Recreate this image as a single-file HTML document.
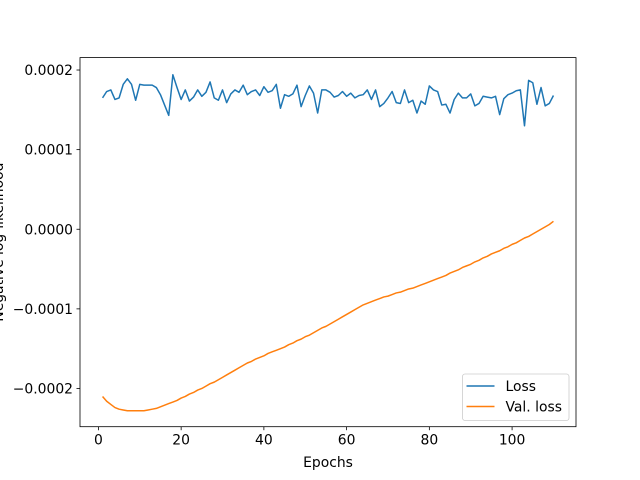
<!DOCTYPE html>
<html><head><meta charset="utf-8"><style>body{margin:0;background:#fff}svg{display:block;font-family:"DejaVu Sans","Liberation Sans",sans-serif}</style></head>
<body>
<svg id="c" width="640" height="480" viewBox="0 0 640 480">
<rect width="640" height="480" fill="#fff"/>
</svg>
<script>
const epochs = Array.from({length:110},(_, i)=>i+1);
const lossVals = [1.65,1.73,1.75,1.63,1.65,1.82,1.89,1.82,1.62,1.82,
1.81,1.81,1.81,1.78,1.69,1.56,1.43,1.94,1.78,1.63,
1.75,1.61,1.66,1.75,1.67,1.72,1.85,1.65,1.62,1.75,
1.59,1.70,1.75,1.72,1.81,1.69,1.73,1.75,1.68,1.79,
1.72,1.74,1.82,1.52,1.69,1.67,1.70,1.81,1.54,1.68,
1.80,1.71,1.46,1.75,1.75,1.72,1.66,1.68,1.73,1.67,
1.71,1.65,1.68,1.69,1.75,1.63,1.75,1.54,1.58,1.65,
1.73,1.59,1.58,1.75,1.59,1.62,1.46,1.61,1.57,1.80,
1.75,1.73,1.56,1.57,1.46,1.63,1.71,1.65,1.65,1.70,
1.55,1.58,1.67,1.66,1.65,1.67,1.44,1.64,1.69,1.71,
1.74,1.75,1.30,1.87,1.84,1.57,1.78,1.55,1.58,1.68];
const valLossVals = [-2.10,-2.16,-2.20,-2.24,-2.26,-2.27,-2.28,-2.28,-2.28,-2.28,
-2.28,-2.27,-2.26,-2.25,-2.23,-2.21,-2.19,-2.17,-2.15,-2.12,
-2.10,-2.07,-2.05,-2.02,-2.00,-1.97,-1.94,-1.92,-1.89,-1.86,
-1.83,-1.80,-1.77,-1.74,-1.71,-1.68,-1.66,-1.63,-1.61,-1.59,
-1.56,-1.54,-1.52,-1.50,-1.48,-1.45,-1.43,-1.40,-1.38,-1.35,
-1.33,-1.30,-1.27,-1.24,-1.22,-1.19,-1.16,-1.13,-1.10,-1.07,
-1.04,-1.01,-0.98,-0.95,-0.93,-0.91,-0.89,-0.87,-0.85,-0.84,
-0.82,-0.80,-0.79,-0.77,-0.75,-0.74,-0.72,-0.70,-0.68,-0.66,
-0.64,-0.62,-0.60,-0.58,-0.55,-0.53,-0.51,-0.48,-0.46,-0.44,
-0.41,-0.39,-0.36,-0.34,-0.31,-0.29,-0.27,-0.24,-0.22,-0.19,
-0.17,-0.14,-0.11,-0.09,-0.06,-0.03,0.00,0.03,0.06,0.10];
const xTicks = [0,20,40,60,80,100];
const yTicks = [2,1,0,-1,-2];
const yTickLabels = ["0.0002","0.0001","0.0000","\u22120.0001","\u22120.0002"];
const seriesNames = ["Loss","Val. loss"];

const L=80,R=576,T=57.6,B=426.7;
const xmin=-4.45,xmax=115.45,ymin=-2.48,ymax=2.156;
const X=v=>L+(v-xmin)/(xmax-xmin)*(R-L);
const Y=v=>B-(v-ymin)/(ymax-ymin)*(B-T);
const svg=document.getElementById('c');
const NS='http://www.w3.org/2000/svg';
function mk(tag,attrs,parent){const e=document.createElementNS(NS,tag);for(const k in attrs)e.setAttribute(k,attrs[k]);(parent||svg).appendChild(e);return e;}

function line(vals,color,name){
  const d=vals.map((v,i)=>(i?'L':'M')+X(epochs[i]).toFixed(2)+','+Y(v).toFixed(2)).join('');
  const p=mk('path',{d:d,fill:'none',stroke:color,'stroke-width':1.5,'stroke-linejoin':'round'});
  
  
}
line(lossVals,'#1f77b4','loss-line');
line(valLossVals,'#ff7f0e','val-loss-line');

const frame=mk('rect',{x:L,y:T,width:R-L,height:B-T,fill:'none',stroke:'#000','stroke-width':0.8});



xTicks.forEach(t=>{
  const x=X(t);
  mk('line',{x1:x,x2:x,y1:B,y2:B+3.5,stroke:'#000','stroke-width':0.8});
  const tx=mk('text',{x:x,y:B+18,'text-anchor':'middle','font-size':'13.9px',fill:'#000'});
  tx.textContent=t;
  
  
});
yTicks.forEach((t,i)=>{
  const y=Y(t);
  mk('line',{x1:L-3.5,x2:L,y1:y,y2:y,stroke:'#000','stroke-width':0.8});
  const tx=mk('text',{x:L-7,y:y+5,'text-anchor':'end','font-size':'13.9px',fill:'#000'});
  tx.textContent=yTickLabels[i];
  
  
});

const xl=mk('text',{x:(L+R)/2,y:467,'text-anchor':'middle','font-size':'13.9px',fill:'#000'});
xl.textContent='Epochs';


const yl=mk('text',{x:0,y:0,'text-anchor':'middle','font-size':'13.9px',fill:'#000',transform:'translate(3,'+((T+B)/2)+') rotate(-90)'});
yl.textContent='Negative log-likelihood';



const lg=mk('g',{});


mk('rect',{x:462.5,y:374,width:106.5,height:46.5,rx:2.5,fill:'#fff','fill-opacity':0.8,stroke:'#ccc','stroke-width':0.8},lg);
const colors=['#1f77b4','#ff7f0e'];
seriesNames.forEach((n,i)=>{
  const y=386+i*20.5;
  const ln=mk('line',{x1:466.5,x2:494.5,y1:y,y2:y,stroke:colors[i],'stroke-width':1.5},lg);
  
  
  const tx=mk('text',{x:505.5,y:y+5,'font-size':'13.9px',fill:'#000'},lg);
  tx.textContent=n;
  
  
});
</script>
</body></html>
